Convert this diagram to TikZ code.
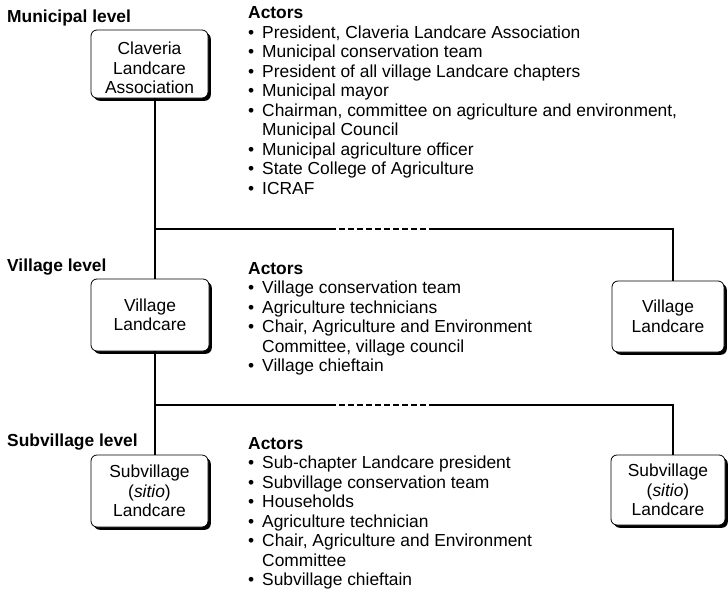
\documentclass[tikz,border=0pt]{standalone}
\usepackage{fontspec}
\setmainfont{Liberation Sans}
\usetikzlibrary{shadows}
\newcommand\myitem{\makebox[14pt][l]{\textbullet}}
\newcommand\myindent{\hspace*{14pt}}
\tikzset{
  txt/.style={font=\fontsize{17.4}{19.5}\selectfont},
  box/.style={txt, draw, rounded corners=6pt, fill=white, line width=0.8pt, align=center, inner sep=0pt,
    drop shadow={shadow xshift=2.8pt, shadow yshift=-2.8pt, fill=black, opacity=1}},
  lvl/.style={font=\bfseries\fontsize{17.4}{19.5}\selectfont, anchor=base west, inner sep=0pt},
  actlist/.style={txt, align=left, anchor=north west, inner sep=0pt},
  conn/.style={line width=1.4pt},
  dconn/.style={line width=1.3pt, dash pattern=on 6pt off 3pt},
}
\begin{document}
\begin{tikzpicture}[x=1pt, y=-1pt]
\useasboundingbox (0,0) rectangle (728,592);

% level labels
\node[lvl] (lm) at (7,22) {Municipal level};
\node[lvl] (lv) at (7,271) {Village level};
\node[lvl] (ls) at (7,446) {Subvillage level};

% boxes
\node[box, minimum width=117pt, minimum height=68pt] (mun) at (149.5,64) {\rule{0pt}{20.5pt}Claveria\\Landcare\\Association};
\node[box, minimum width=118pt, minimum height=72pt] (vl) at (150,315) {Village\\Landcare};
\node[box, minimum width=112pt, minimum height=71pt] (vr) at (668,316.5) {Village\\Landcare};
\node[box, minimum width=117pt, minimum height=72pt] (sl) at (149.5,491) {Subvillage\\(\textit{sitio})\\Landcare};
\node[box, minimum width=114pt, minimum height=70pt] (sr) at (668,490) {Subvillage\\(\textit{sitio})\\Landcare};

% actor lists
\node[actlist] (am) at (248,4.5) {\rule{0pt}{14pt}\textbf{Actors}\\
\myitem President, Claveria Landcare Association\\
\myitem Municipal conservation team\\
\myitem President of all village Landcare chapters\\
\myitem Municipal mayor\\
\myitem Chairman, committee on agriculture and environment,\\
\myindent Municipal Council\\
\myitem Municipal agriculture officer\\
\myitem State College of Agriculture\\
\myitem ICRAF};

\node[actlist] (av) at (248,260) {\rule{0pt}{14pt}\textbf{Actors}\\
\myitem Village conservation team\\
\myitem Agriculture technicians\\
\myitem Chair, Agriculture and Environment\\
\myindent Committee, village council\\
\myitem Village chieftain};

\node[actlist] (as) at (248,435) {\rule{0pt}{14pt}\textbf{Actors}\\
\myitem Sub-chapter Landcare president\\
\myitem Subvillage conservation team\\
\myitem Households\\
\myitem Agriculture technician\\
\myitem Chair, Agriculture and Environment\\
\myindent Committee\\
\myitem Subvillage chieftain};

% connectors
\coordinate (j1) at (155,229);
\coordinate (j2) at (673,229);
\coordinate (d1a) at (330,229);
\coordinate (d1b) at (435,229);
\coordinate (j3) at (155,405);
\coordinate (j4) at (673,405);
\coordinate (d2a) at (330,405);
\coordinate (d2b) at (435,405);

\draw[conn] (mun.south -| j1) -- (vl.north -| j1);
\draw[conn] (j1) -- (d1a);
\draw[dconn] (d1a) -- (d1b);
\draw[conn] (d1b) -- (j2) -- (vr.north -| j2);

\draw[conn] (vl.south -| j3) -- (sl.north -| j3);
\draw[conn] (j3) -- (d2a);
\draw[dconn] (d2a) -- (d2b);
\draw[conn] (d2b) -- (j4) -- (sr.north -| j4);
\end{tikzpicture}
\end{document}
